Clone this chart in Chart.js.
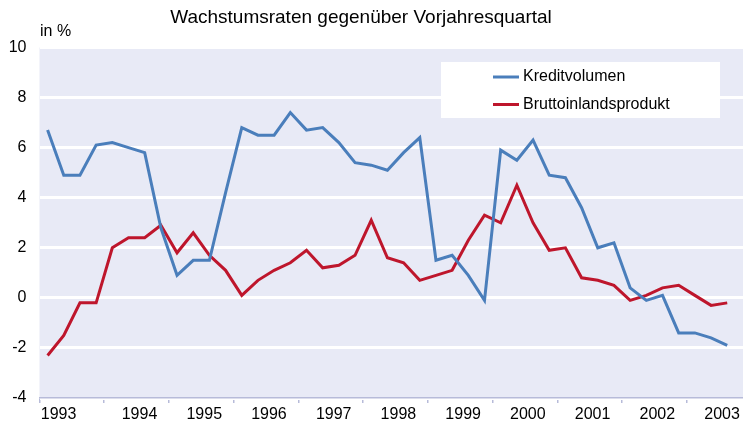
<!DOCTYPE html>
<html>
<head>
<meta charset="utf-8">
<script src="https://cdn.jsdelivr.net/npm/chart.js@4"></script>
<style>
  html, body { margin: 0; padding: 0; background: #fff; overflow: hidden; }
  #wrap { width: 752px; height: 421px; }
</style>
</head>
<body>
<div id="wrap"><canvas id="growthChart" width="752" height="421"></canvas></div>
<script>
// quarters 1993 Q1 .. 2003 Q4 (last quarter has no data yet)
const years = ['1993', '1994', '1995', '1996', '1997', '1998', '1999', '2000', '2001', '2002', '2003'];
const quarters = [];
years.forEach(y => { for (let q = 1; q <= 4; q++) quarters.push(y + ' Q' + q); });

const kreditvolumen = [
    6.7, 4.9, 4.9, 6.1, 6.2, 6.0, 5.8, 2.8, 0.9, 1.5, 1.5, 4.2,
    6.8, 6.5, 6.5, 7.4, 6.7, 6.8, 6.2, 5.4, 5.3, 5.1, 5.8, 6.4,
    1.5, 1.7, 0.9, -0.1, 5.9, 5.5, 6.3, 4.9, 4.8, 3.6, 2.0, 2.2,
    0.4, -0.1, 0.1, -1.4, -1.4, -1.6, -1.9
];
const bruttoinlandsprodukt = [
    -2.3, -1.5, -0.2, -0.2, 2.0, 2.4, 2.4, 2.9, 1.8, 2.6, 1.7, 1.1,
    0.1, 0.7, 1.1, 1.4, 1.9, 1.2, 1.3, 1.7, 3.1, 1.6, 1.4, 0.7,
    0.9, 1.1, 2.3, 3.3, 3.0, 4.5, 3.0, 1.9, 2.0, 0.8, 0.7, 0.5,
    -0.1, 0.1, 0.4, 0.5, 0.1, -0.3, -0.2
];

const titleText = 'Wachstumsraten gegenüber Vorjahresquartal';
const unitText = 'in %';
const FONT = '"Liberation Sans", Arial, sans-serif';
const plotBg = '#e8eaf6';
const axisColor = '#b7bbd9';

// background, title, unit label and the boxed legend
const decorPlugin = {
    id: 'decor',
    beforeDraw(chart) {
        const { ctx, chartArea } = chart;
        ctx.save();
        ctx.fillStyle = plotBg;
        ctx.fillRect(chartArea.left, chartArea.top, chartArea.right - chartArea.left, chartArea.bottom - chartArea.top);
        ctx.fillStyle = '#000';
        ctx.textBaseline = 'middle';
        ctx.font = '19px ' + FONT;
        ctx.textAlign = 'center';
        ctx.fillText(titleText, 361, 18);
        ctx.font = '16px ' + FONT;
        ctx.textAlign = 'left';
        ctx.fillText(unitText, 40, 32);
        ctx.restore();
    },
    afterDatasetsDraw(chart) {
        const { ctx } = chart;
        ctx.save();
        ctx.fillStyle = '#fff';
        ctx.fillRect(441, 62, 279, 56);
        ctx.font = '16px ' + FONT;
        ctx.textBaseline = 'middle';
        ctx.textAlign = 'left';
        chart.data.datasets.forEach((ds, i) => {
            const y = 77 + i * 27.5;
            ctx.strokeStyle = ds.borderColor;
            ctx.lineWidth = 3;
            ctx.beginPath();
            ctx.moveTo(493, y);
            ctx.lineTo(519, y);
            ctx.stroke();
            ctx.fillStyle = '#000';
            ctx.fillText(ds.label, 523, y);
        });
        ctx.restore();
    }
};

const ctx = document.getElementById('growthChart').getContext('2d');
new Chart(ctx, {
    type: 'line',
    data: {
        labels: quarters,
        datasets: [{
            label: 'Kreditvolumen',
            data: kreditvolumen,
            borderColor: '#4a7ebb',
            borderWidth: 3,
            pointRadius: 0,
            tension: 0
        }, {
            label: 'Bruttoinlandsprodukt',
            data: bruttoinlandsprodukt,
            borderColor: '#be162c',
            borderWidth: 3,
            pointRadius: 0,
            tension: 0
        }]
    },
    options: {
        responsive: false,
        animation: false,
        layout: { padding: { top: 47.5, left: 0, right: 0.5, bottom: 0 } },
        plugins: {
            legend: { display: false },
            tooltip: { enabled: false }
        },
        scales: {
            x: {
                type: 'category',
                offset: true,
                afterFit: scale => { scale.height = 23; },
                grid: {
                    offset: true,
                    drawOnChartArea: false,
                    drawTicks: true,
                    tickLength: 5,
                    lineWidth: 1.5,
                    color: c => (c.index % 4 === 0 ? axisColor : 'rgba(0,0,0,0)')
                },
                border: { display: true, color: axisColor, width: 1.5 },
                ticks: {
                    autoSkip: false,
                    maxRotation: 0,
                    labelOffset: 11,
                    padding: 2,
                    color: '#000',
                    font: { family: FONT, size: 16 },
                    callback: function(value, index) {
                        const yr = years[Math.floor(index / 4)];
                        const q = index % 4;
                        if (yr === '1993') return q === 0 ? yr : '';
                        return q === 1 ? yr : '';
                    }
                }
            },
            y: {
                min: -4,
                max: 10,
                afterFit: scale => { scale.width = 39.5; },
                grid: { color: '#ffffff', lineWidth: 3, drawTicks: false },
                border: { display: false },
                ticks: {
                    stepSize: 2,
                    padding: 13,
                    color: '#000',
                    font: { family: FONT, size: 16 }
                }
            }
        }
    },
    plugins: [decorPlugin]
});
</script>
</body>
</html>
